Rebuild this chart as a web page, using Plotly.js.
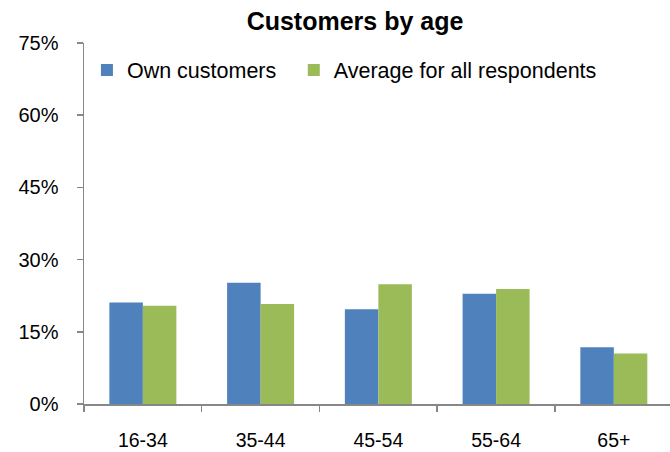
<!DOCTYPE html>
<html>
<head>
<meta charset="utf-8">
<script src="https://cdn.plot.ly/plotly-3.0.1.min.js"></script>
<style>
  html, body { margin: 0; padding: 0; background: #ffffff; }
  #chart { width: 670px; height: 452px; }
</style>
</head>
<body>
<div id="chart"></div>
<script>
// Age bands and the share of customers in each (percent)
const ageGroups = ['16-34', '35-44', '45-54', '55-64', '65+'];
const ownCustomers = [21.1, 25.2, 19.7, 22.9, 11.8];
const allRespondents = [20.4, 20.8, 24.9, 23.9, 10.5];
const seriesNames = ['Own customers', 'Average for all respondents'];
const yTicks = [0, 15, 30, 45, 60, 75];

const FONT = 'Arial, "Liberation Sans", sans-serif';
const AXIS_GREY = '#878787';

const traces = [
  {
    type: 'bar',
    name: seriesNames[0],
    x: ageGroups,
    y: ownCustomers,
    marker: { color: '#4F81BD' },
    legend: 'legend',
    hoverinfo: 'x+y+name'
  },
  {
    type: 'bar',
    name: seriesNames[1],
    x: ageGroups,
    y: allRespondents,
    marker: { color: '#9BBB59' },
    legend: 'legend2',
    hoverinfo: 'x+y+name'
  }
];

// Each series gets its own legend box so the two entries can sit at fixed spots
const legendBase = {
  orientation: 'h',
  xanchor: 'left',
  y: 0.925,
  yanchor: 'middle',
  font: { family: FONT, size: 21.5, color: '#000000' },
  bgcolor: 'rgba(0,0,0,0)',
  itemsizing: 'constant'
};

const layout = {
  width: 670,
  height: 452,
  margin: { l: 84, r: 0, t: 43, b: 48 },
  paper_bgcolor: '#ffffff',
  plot_bgcolor: '#ffffff',
  font: { family: FONT, color: '#000000', size: 20 },
  title: {
    text: '<b>Customers by age</b>',
    font: { family: FONT, size: 25, color: '#000000' },
    x: 355 / 670,
    xref: 'container',
    xanchor: 'center',
    y: 1 - 21 / 452,
    yref: 'container',
    yanchor: 'middle'
  },
  barmode: 'group',
  bargap: 0.431,
  bargroupgap: 0,
  showlegend: true,
  legend: Object.assign({}, legendBase, { x: 0.005 }),
  legend2: Object.assign({}, legendBase, { x: 0.358 }),
  xaxis: {
    type: 'category',
    range: [-0.5, 4.477],
    showline: true,
    linecolor: AXIS_GREY,
    linewidth: 1.5,
    ticks: 'outside',
    tickson: 'boundaries',
    ticklen: 6,
    tickcolor: AXIS_GREY,
    tickwidth: 1.5,
    showgrid: false,
    zeroline: false,
    ticklabelstandoff: 18,
    tickfont: { family: FONT, size: 19.5, color: '#000000' },
    fixedrange: true
  },
  yaxis: {
    range: [0, 75],
    tickvals: yTicks,
    ticktext: yTicks.map(v => v + '%'),
    showline: true,
    linecolor: AXIS_GREY,
    linewidth: 1.5,
    ticks: 'outside',
    ticklen: 6,
    tickcolor: AXIS_GREY,
    tickwidth: 1.5,
    showgrid: false,
    zeroline: false,
    ticklabelstandoff: 14,
    tickfont: { family: FONT, size: 20, color: '#000000' },
    fixedrange: true
  }
};

Plotly.newPlot('chart', traces, layout, { displayModeBar: false, staticPlot: true });
</script>
</body>
</html>
